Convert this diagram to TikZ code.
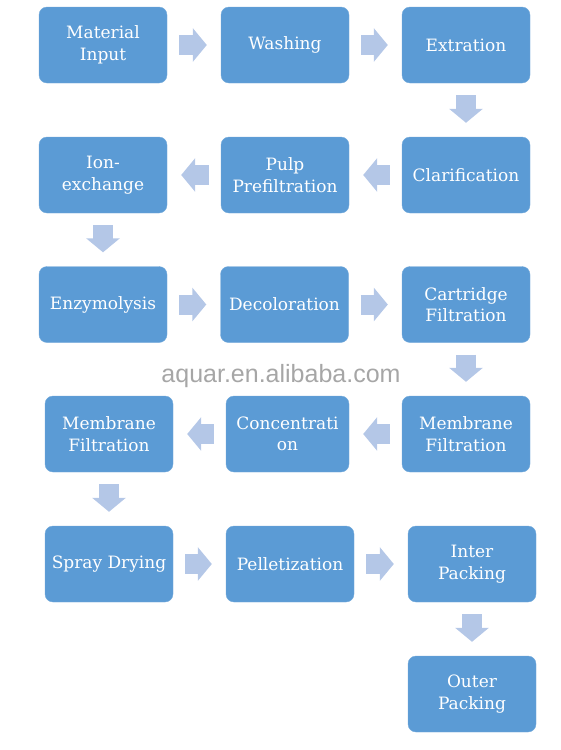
\documentclass[tikz,border=0pt]{standalone}
\usepackage{fontspec}
\setmainfont{DejaVu Serif}
\newfontfamily\markfont{Liberation Sans}
\usetikzlibrary{arrows.meta}
\definecolor{boxblue}{HTML}{5B9BD5}
\definecolor{arrowblue}{HTML}{B4C7E7}
\definecolor{markgray}{HTML}{A6A6A6}
\begin{document}
\begin{tikzpicture}[x=1pt,y=-1pt,
    stage/.style={fill=boxblue,draw=boxblue!85!white,rounded corners=8pt,
      minimum width=128pt,minimum height=76pt,text=white,align=center,
      font=\fontsize{17}{21.5}\selectfont,inner sep=0pt},
    flow/.style={arrowblue,line width=20pt,shorten <=12pt,shorten >=14pt,
      -{Triangle[length=14pt,width=33pt]}}]
      \useasboundingbox (0,0) rectangle (560,750);
      \path[nodes=stage]
        (103,45) node (0){Material\\Input}
        (285,45) node (1){Washing}
        (466,45) node (2){Extration}
        (466,175) node (3){Clarification}
        (285,175) node (4){Pulp\\Prefiltration}
        (103,175) node (5){Ion-\\exchange}
        (103,304.5) node (6){Enzymolysis}
        (284.5,304.5) node (7){Decoloration}
        (466,304.5) node (8){Cartridge\\Filtration}
        (466,434) node (9){Membrane\\Filtration}
        (287.5,434) node[minimum width=123pt] (10){Concentrati\\on}
        (109,434) node (11){Membrane\\Filtration}
        (109,564) node (12){Spray Drying}
        (290,564) node (13){Pelletization}
        (472,564) node (14){Inter\\Packing}
        (472,694) node (15){Outer\\Packing};
      \node[font=\markfont\fontsize{25}{30}\selectfont,text=markgray,anchor=base]
        (mark) at (281,382) {aquar.en.alibaba.com};
      \begin{scope}[flow]
        \draw (0) to (1);
        \draw (1) to (2);
        \draw (2) to (3);
        \draw (3) to (4);
        \draw (4) to (5);
        \draw (5) to (6);
        \draw (6) to (7);
        \draw (7) to (8);
        \draw (8) to (9);
        \draw (9) to (10);
        \draw (10) to (11);
        \draw (11) to (12);
        \draw (12) to (13);
        \draw (13) to (14);
        \draw (14) to (15);
      \end{scope}
    \end{tikzpicture}
\end{document}
